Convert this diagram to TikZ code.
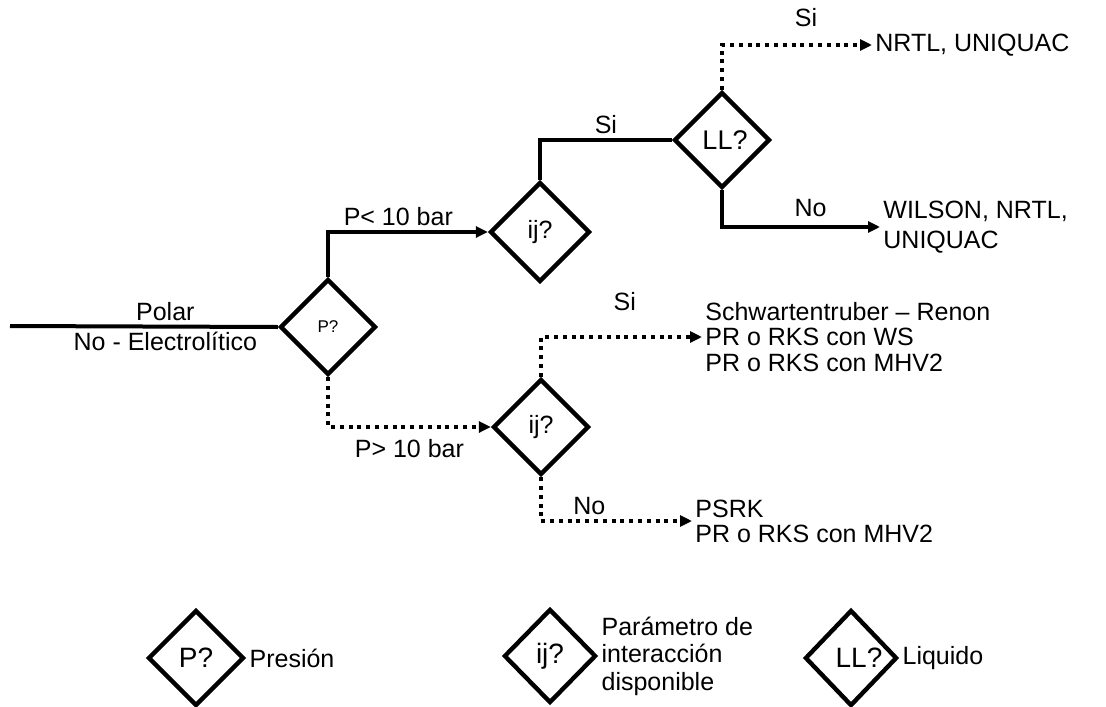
\documentclass[tikz,border=0pt]{standalone}
\usepackage{fontspec}
\setmainfont{Liberation Sans}
\usetikzlibrary{shapes.geometric,arrows.meta}
\begin{document}
\begin{tikzpicture}[x=0.5pt,y=-0.5pt,
  font=\fontsize{12.5}{14}\selectfont,
  dec/.style={diamond,draw,line width=2.2pt,aspect=1,inner sep=0pt,minimum width=48pt,minimum height=48pt},
  solidline/.style={line width=2pt},
  dotline/.style={line width=2pt,dash pattern=on 2pt off 2.4pt},
  arr/.style={-{Triangle[length=6pt,width=5.5pt]}},
  res/.style={align=left,anchor=west,inner sep=1.5pt},
  lbl/.style={inner sep=2pt}]
\useasboundingbox (0,0) rectangle (1106,706);
% decision nodes
\node[dec,font=\fontsize{8.5}{10}\selectfont] (P) at (328,327) {P?};
\node[dec,minimum width=50pt,minimum height=50pt] (ija) at (540,232) {ij?};
\node[dec,font=\fontsize{13.5}{15}\selectfont] (LL) at (722,140) {\hspace*{3pt}LL?};
\node[dec] (ijb) at (541,427) {ij?};
% results
\node[res] (r1) at (872,45) {NRTL, UNIQUAC};
\node[res,font=\fontsize{12.5}{15}\selectfont] (r2) at (880,227) {WILSON, NRTL,\\UNIQUAC};
\node[res,font=\fontsize{12.5}{12.8}\selectfont] (r3) at (702,337) {Schwartentruber -- Renon\\PR o RKS con WS\\PR o RKS con MHV2};
\node[res,font=\fontsize{12.5}{12.4}\selectfont] (r4) at (692,521) {PSRK\\PR o RKS con MHV2};
% input line
\coordinate (in) at (10,326);
\draw[solidline] (in) -- (P.west)
  node[pos=0.58,above,lbl] {Polar}
  node[pos=0.58,below,lbl] {No - Electrolítico};
% connectors
\draw[solidline,arr] (P.north) |- (ija.west) node[pos=0.72,above,lbl] {P< 10 bar};
\draw[dotline,arr] (P.south) |- (ijb.west) node[pos=0.75,below,lbl,yshift=-3pt] {P> 10 bar};
\draw[solidline] (ija.north) |- (LL.west) node[pos=0.75,above,lbl] {Si};
\draw[dotline,arr] (LL.north) |- (r1.west) node[pos=0.78,above,lbl,yshift=6pt] {Si};
\draw[solidline,arr] (LL.south) |- (r2.west) node[pos=0.78,above,lbl,yshift=2pt] {No};
\draw[dotline,arr] (ijb.north) |- (r3.west) node[pos=0.76,above,lbl,yshift=10pt] {Si};
\draw[dotline,arr] (ijb.south) |- (r4.west) node[pos=0.66,above,lbl] {No};
% legend
\node[dec,font=\fontsize{14}{16}\selectfont] (lP) at (196,658) {P?};
\node[res] (tP) at (lP.east) {Presión};
\node[dec,font=\fontsize{14}{16}\selectfont,minimum width=46pt,minimum height=47pt] (lij) at (550,656) {ij?};
\node[res,font=\fontsize{12.5}{13.8}\selectfont] (tij) at (lij.east) {Parámetro de\\interacción\\disponible};
\node[dec,font=\fontsize{14}{16}\selectfont,minimum width=46pt] (lLL) at (851,658) {\hspace*{8pt}LL?};
\node[res] (tLL) at (lLL.east) {Liquido};
\end{tikzpicture}
\end{document}
